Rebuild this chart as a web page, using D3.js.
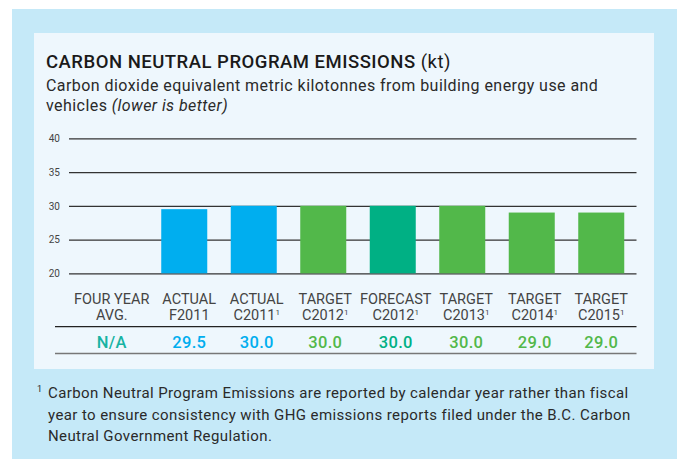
<!DOCTYPE html>
<html>
<head>
<meta charset="utf-8">
<script src="https://cdn.jsdelivr.net/npm/d3@7"></script>
<style>
  body { margin: 0; background: #fff; }
  svg { display: block; font-family: Roboto, "DejaVu Sans", sans-serif; }
</style>
</head>
<body>
<script>
var w = 677;
var h = 459;

// chart data
var categories = ["FOUR YEAR|AVG.", "ACTUAL|F2011", "ACTUAL|C2011", "TARGET|C2012",
                  "FORECAST|C2012", "TARGET|C2013", "TARGET|C2014", "TARGET|C2015"];
var footnoted = [false, false, true, true, true, true, true, true];
var values = [null, 29.5, 30.0, 30.0, 30.0, 30.0, 29.0, 29.0];
var valueLabels = ["N/A", "29.5", "30.0", "30.0", "30.0", "30.0", "29.0", "29.0"];
var kinds = ["avg", "actual", "actual", "target", "forecast", "target", "target", "target"];
var yTicks = [20, 25, 30, 35, 40];

var colors = {avg: "#17b3a3", actual: "#00aeef", target: "#52b84a", forecast: "#00b084"};

var svg = d3.select("body").append("svg")
    .attr("width", w)
    .attr("height", h);

// backgrounds
svg.append("rect").attr("x", 12).attr("y", 9).attr("width", w - 12).attr("height", h - 9)
    .style("fill", "#c5e9f8");
svg.append("rect").attr("x", 34).attr("y", 33).attr("width", 620).attr("height", 336)
    .style("fill", "#eef7fd");

// title block
var title = svg.append("text").attr("x", 46).attr("y", 68)
    .style("font-size", "18.5px").style("fill", "#1a1a1a")
    .style("letter-spacing", "0.5px");
title.append("tspan").text("CARBON NEUTRAL PROGRAM EMISSIONS").style("font-weight", 500);
title.append("tspan").text(" (kt)").style("font-weight", 400);

svg.append("text").attr("x", 46).attr("y", 91)
    .style("font-size", "16px").style("fill", "#2a2a2a")
    .style("letter-spacing", "0.44px")
    .text("Carbon dioxide equivalent metric kilotonnes from building energy use and");
var sub2 = svg.append("text").attr("x", 46).attr("y", 111)
    .style("font-size", "16px").style("fill", "#2a2a2a")
    .style("letter-spacing", "0.44px");
sub2.append("tspan").text("vehicles ");
sub2.append("tspan").text("(lower is better)").style("font-style", "italic");

// scales
var x = d3.scaleBand()
    .domain(d3.range(categories.length))
    .range([80, 636])
    .paddingInner(0.338)
    .paddingOuter(0.169);

var y = d3.scaleLinear()
    .domain([20, 40])
    .range([273.3, 138.3]);

// gridlines + tick labels
var yAxis = d3.axisLeft(y)
    .tickValues(yTicks)
    .tickSize(-(636.5 - 69))
    .tickPadding(9);

var gAxis = svg.append("g")
    .attr("transform", "translate(69,0)")
    .call(yAxis);
gAxis.select(".domain").remove();
gAxis.selectAll(".tick line").style("stroke", "#333").style("stroke-width", 1.2);
gAxis.selectAll(".tick text")
    .style("font-size", "10px").style("fill", "#444")
    .style("font-family", "Roboto, sans-serif");

// bars
svg.append("g").selectAll("rect")
    .data(values.map(function(v, i){ return {v: v, i: i}; }).filter(function(d){ return d.v !== null; }))
    .enter()
    .append("rect")
    .attr("x", function(d){ return x(d.i); })
    .attr("y", function(d){ return y(d.v); })
    .attr("width", x.bandwidth())
    .attr("height", function(d){ return y(20) - y(d.v); })
    .style("fill", function(d){ return colors[kinds[d.i]]; });

// category labels (first column sits a bit left, second a bit right, like the table)
var labelShift = [-3, 5, 3, 2, 3, 4, 3, 0];
var labels = svg.append("g").selectAll("text")
    .data(categories)
    .enter()
    .append("text")
    .attr("text-anchor", "middle")
    .style("font-size", "14.5px")
    .style("fill", "#444");

labels.each(function(d, i){
    var parts = d.split("|");
    var cx = x(i) + x.bandwidth() / 2 + labelShift[i];
    var t = d3.select(this);
    t.append("tspan").attr("x", cx).attr("y", 303.5).text(parts[0]);
    t.append("tspan").attr("x", cx).attr("y", 320).text(parts[1]);
    if (footnoted[i]) {
        t.append("tspan").attr("dy", -5).style("font-size", "8px").text("1");
    }
});

// table rules
svg.append("line").attr("x1", 55).attr("x2", 636.5).attr("y1", 326.7).attr("y2", 326.7)
    .style("stroke", "#222").style("stroke-width", 1.3);
svg.append("line").attr("x1", 55).attr("x2", 636.5).attr("y1", 353.5).attr("y2", 353.5)
    .style("stroke", "#777").style("stroke-width", 1.6);

// value row
svg.append("g").selectAll("text")
    .data(valueLabels)
    .enter()
    .append("text")
    .attr("x", function(d, i){ return x(i) + x.bandwidth() / 2 + labelShift[i]; })
    .attr("y", 347.5)
    .attr("text-anchor", "middle")
    .style("font-size", "16.5px")
    .style("font-weight", 500)
    .style("letter-spacing", "0.3px")
    .style("fill", function(d, i){ return colors[kinds[i]]; })
    .text(function(d){ return d; });

// footnote
var notes = ["Carbon Neutral Program Emissions are reported by calendar year rather than fiscal",
             "year to ensure consistency with GHG emissions reports filed under the B.C. Carbon",
             "Neutral Government Regulation."];
svg.append("text").attr("x", 37).attr("y", 392)
    .style("font-size", "9px").style("fill", "#2a2a2a").text("1");
svg.append("g").selectAll("text")
    .data(notes)
    .enter()
    .append("text")
    .attr("x", 48)
    .attr("y", function(d, i){ return 398 + i * 21.7; })
    .style("font-size", "15px")
    .style("letter-spacing", "0.4px")
    .style("fill", "#2a2a2a")
    .text(function(d){ return d; });
</script>
</body>
</html>
